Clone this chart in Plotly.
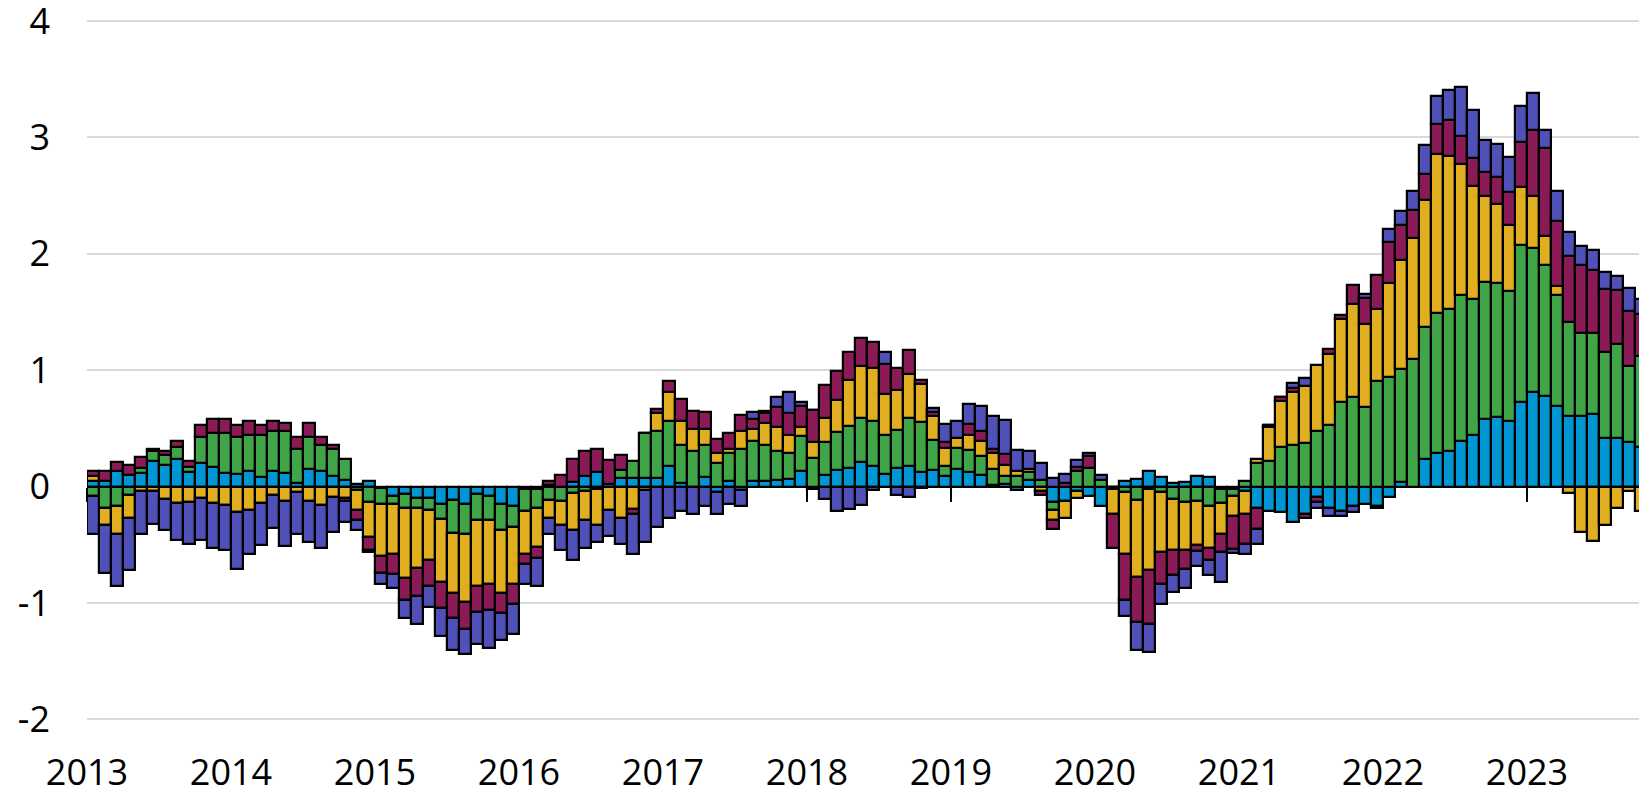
import plotly.graph_objects as go

start_year = 2013
# monthly contributions, Jan 2013 .. Oct 2023
cyan = [0.045, 0.045, 0.137, 0.097, 0.114, 0.223, 0.189, 0.237, 0.123, 0.2, 0.166, 0.114,
        0.109, 0.131, 0.08, 0.131, 0.114, 0.031, 0.151, 0.137, 0.094, 0.06, 0.025, 0.051,
        -0.01, -0.083, -0.063, -0.097, -0.097, -0.149, -0.114, -0.149, -0.063, -0.077, -0.149, -0.171,
        -0.02, -0.02, 0.01, 0.0, 0.043, 0.094, 0.129, 0.023, 0.074, 0.074, 0.074, 0.074,
        0.18, 0.029, 0.0, 0.086, -0.043, 0.051, -0.03, 0.051, 0.051, 0.057, 0.066, 0.131,
        -0.02, 0.097, 0.146, 0.16, 0.211, 0.18, 0.111, 0.16, 0.18, 0.123, 0.14, 0.089,
        0.154, 0.126, 0.103, 0.01, 0.023, -0.03, 0.054, 0.0, -0.131, -0.12, -0.04, -0.083,
        -0.163, -0.02, 0.051, 0.066, 0.137, 0.086, 0.031, 0.043, 0.094, 0.08, -0.02, -0.023,
        -0.04, -0.183, -0.206, -0.22, -0.306, -0.234, -0.086, -0.183, -0.206, -0.163, -0.149, -0.163,
        -0.086, 0.037, 0.0, 0.237, 0.289, 0.309, 0.394, 0.443, 0.58, 0.594, 0.566, 0.729,
        0.814, 0.777, 0.694, 0.609, 0.609, 0.623, 0.42, 0.42, 0.386, 0.337]
green = [-0.085, -0.186, -0.171, -0.069, 0.046, 0.08, 0.085, 0.1, 0.043, 0.223, 0.291, 0.343,
         0.314, 0.312, 0.363, 0.343, 0.36, 0.292, 0.272, 0.22, 0.229, 0.177, -0.03, -0.134,
         -0.14, -0.066, -0.123, -0.089, -0.1, -0.128, -0.283, -0.262, -0.223, -0.209, -0.222, -0.172,
         -0.186, -0.163, -0.114, -0.126, -0.057, -0.04, -0.023, 0.0, 0.072, 0.149, 0.386, 0.4,
         0.38, 0.328, 0.303, 0.271, 0.2, 0.237, 0.323, 0.337, 0.306, 0.246, 0.223, 0.306,
         0.246, 0.286, 0.323, 0.363, 0.378, 0.38, 0.329, 0.329, 0.409, 0.431, 0.257, 0.085,
         0.177, 0.185, 0.157, 0.14, 0.066, 0.089, 0.072, 0.054, -0.066, 0.0, 0.131, 0.16,
         0.057, 0.0, -0.049, -0.114, -0.02, -0.049, -0.106, -0.134, -0.12, -0.163, -0.123, -0.06,
         0.051, 0.203, 0.223, 0.337, 0.357, 0.374, 0.48, 0.529, 0.723, 0.766, 0.68, 0.909,
         0.943, 0.972, 1.094, 1.134, 1.2, 1.214, 1.249, 1.166, 1.18, 1.152, 1.114, 1.343,
         1.235, 1.123, 0.949, 0.805, 0.714, 0.7, 0.737, 0.803, 0.654, 0.786]
yellow = [0.05, -0.14, -0.24, -0.2, -0.034, -0.034, -0.106, -0.14, -0.134, -0.097, -0.14, -0.154,
          -0.22, -0.2, -0.14, -0.071, -0.12, -0.049, -0.12, -0.154, -0.086, -0.097, -0.17, -0.3,
          -0.448, -0.434, -0.597, -0.511, -0.434, -0.543, -0.514, -0.58, -0.568, -0.554, -0.54, -0.491,
          -0.377, -0.337, -0.155, -0.208, -0.312, -0.246, -0.311, -0.2, -0.269, -0.191, -0.029, 0.155,
          0.257, 0.203, 0.191, 0.137, 0.086, 0.034, 0.157, 0.106, 0.189, 0.206, 0.154, 0.072,
          0.137, 0.206, 0.277, 0.394, 0.448, 0.457, 0.357, 0.337, 0.377, 0.326, 0.206, 0.157,
          0.086, 0.135, 0.134, 0.14, 0.1, 0.042, 0.028, -0.034, -0.094, -0.154, -0.06, 0.0,
          0.0, -0.214, -0.528, -0.663, -0.694, -0.514, -0.443, -0.415, -0.386, -0.366, -0.263, -0.171,
          -0.194, 0.034, 0.291, 0.4, 0.46, 0.491, 0.566, 0.614, 0.714, 0.805, 0.72, 0.614,
          0.803, 0.942, 1.043, 1.095, 1.371, 1.32, 1.128, 0.977, 0.74, 0.685, 0.566, 0.5,
          0.445, 0.257, 0.08, -0.057, -0.386, -0.471, -0.329, -0.18, -0.037, -0.214]
maroon = [0.04, 0.092, 0.072, 0.089, 0.097, 0.02, 0.035, 0.057, 0.057, 0.108, 0.123, 0.123,
          0.106, 0.123, 0.086, 0.086, 0.072, 0.1, 0.123, 0.066, 0.034, -0.029, -0.09, -0.109,
          -0.143, -0.166, -0.188, -0.243, -0.22, -0.22, -0.215, -0.229, -0.223, -0.223, -0.172, -0.177,
          -0.08, -0.091, 0.04, 0.1, 0.194, 0.209, 0.194, 0.208, 0.128, -0.043, 0.0, 0.037,
          0.092, 0.191, 0.157, 0.143, 0.123, 0.137, 0.137, 0.086, 0.083, 0.171, 0.186, 0.185,
          0.271, 0.28, 0.243, 0.243, 0.243, 0.223, 0.257, 0.191, 0.208, 0.037, 0.034, 0.049,
          0.0, 0.091, 0.086, 0.037, 0.091, 0.0, 0.0, -0.04, -0.072, 0.031, 0.04, 0.1,
          0.0, -0.291, -0.4, -0.386, -0.463, -0.271, -0.214, -0.162, -0.051, -0.1, -0.157, -0.286,
          -0.257, -0.18, 0.017, 0.034, 0.034, -0.035, -0.048, 0.037, 0.037, 0.158, 0.223, 0.294,
          0.357, 0.295, 0.243, 0.223, 0.257, 0.308, 0.243, 0.237, 0.203, 0.226, 0.285, 0.39,
          0.57, 0.75, 0.563, 0.566, 0.583, 0.534, 0.543, 0.463, 0.471, 0.357]
purple = [-0.325, -0.414, -0.446, -0.45, -0.377, -0.29, -0.27, -0.323, -0.363, -0.366, -0.389, -0.395,
          -0.486, -0.377, -0.366, -0.283, -0.391, -0.362, -0.357, -0.372, -0.305, -0.18, -0.08, -0.02,
          -0.094, -0.12, -0.155, -0.237, -0.186, -0.24, -0.274, -0.22, -0.277, -0.328, -0.237, -0.252,
          -0.171, -0.243, -0.142, -0.209, -0.265, -0.24, -0.143, -0.226, -0.228, -0.349, -0.448, -0.343,
          -0.269, -0.206, -0.234, -0.163, -0.191, -0.149, -0.14, 0.057, 0.023, 0.091, 0.188, 0.037,
          0.0, -0.103, -0.211, -0.191, -0.154, -0.03, 0.106, -0.069, -0.089, -0.01, 0.037, 0.157,
          0.143, 0.174, 0.214, 0.28, 0.294, 0.186, 0.149, 0.149, 0.074, 0.078, 0.06, 0.03,
          0.045, 0.0, -0.137, -0.243, -0.243, -0.172, -0.143, -0.16, -0.126, -0.134, -0.257, -0.029,
          -0.086, -0.128, 0.0, 0.0, 0.035, 0.071, -0.049, -0.066, -0.043, -0.057, 0.034, -0.02,
          0.106, 0.12, 0.157, 0.242, 0.243, 0.258, 0.417, 0.414, 0.277, 0.289, 0.298, 0.31,
          0.32, 0.16, 0.257, 0.206, 0.16, 0.172, 0.143, 0.12, 0.195, 0.134]

year_ticks = list(range(2013, 2024))
year_labels = [str(y) for y in year_ticks]
y_ticks = [-2, -1, 0, 1, 2, 3, 4]
y_labels = ["-2", "-1", "0", "1", "2", "3", "4"]

n = len(cyan)
x = [start_year + (i + 0.5) / 12 for i in range(n)]

series = [
    ("cyan", cyan, "#0096d4"),
    ("green", green, "#40a448"),
    ("yellow", yellow, "#e1ae22"),
    ("maroon", maroon, "#8a1b56"),
    ("purple", purple, "#5050b9"),
]

fig = go.Figure()
for name, vals, col in series:
    fig.add_trace(go.Bar(
        x=x, y=vals, name=name, width=1 / 12,
        marker=dict(color=col, line=dict(color="black", width=2.2)),
        showlegend=False,
    ))

# page body has an 8px margin, so the figure is sized/offset to compensate
ymin, ymax = -2.1, 4.112
x0, x1 = 2013.0, 2013.0 + 1560 / 144.0

fig.update_layout(
    width=1639, height=784, autosize=False,
    margin=dict(l=79, r=0, t=0, b=61, autoexpand=False),
    barmode="relative", bargap=0,
    plot_bgcolor="white", paper_bgcolor="white",
    font=dict(family="Open Sans", size=36, color="black"),
    xaxis=dict(
        range=[x0, x1], tickvals=year_ticks, ticktext=year_labels,
        showgrid=False, zeroline=False, showline=False, ticks="",
        ticklabelstandoff=17, automargin=False, ticklabeloverflow="allow",
    ),
    xaxis2=dict(
        range=[x0, x1], overlaying="x", anchor="free",
        position=(0 - ymin) / (ymax - ymin), side="bottom",
        tickvals=year_ticks, showticklabels=False, ticks="outside",
        ticklen=14, tickwidth=1.6, tickcolor="black",
        showgrid=False, zeroline=False, showline=False,
        layer="below traces", automargin=False,
    ),
    yaxis=dict(
        range=[ymin, ymax], tickvals=y_ticks, ticktext=y_labels,
        showgrid=True, gridcolor="#d9d9d9", gridwidth=2,
        zeroline=False, showline=False, ticks="",
        ticklabelstandoff=36, automargin=False, ticklabeloverflow="allow",
    ),
)
# invisible trace so the overlaid tick axis is rendered
fig.add_trace(go.Scatter(x=[x0], y=[0], xaxis="x2", mode="markers",
                         marker=dict(opacity=0), showlegend=False, hoverinfo="skip"))

fig.write_html("out.html")
